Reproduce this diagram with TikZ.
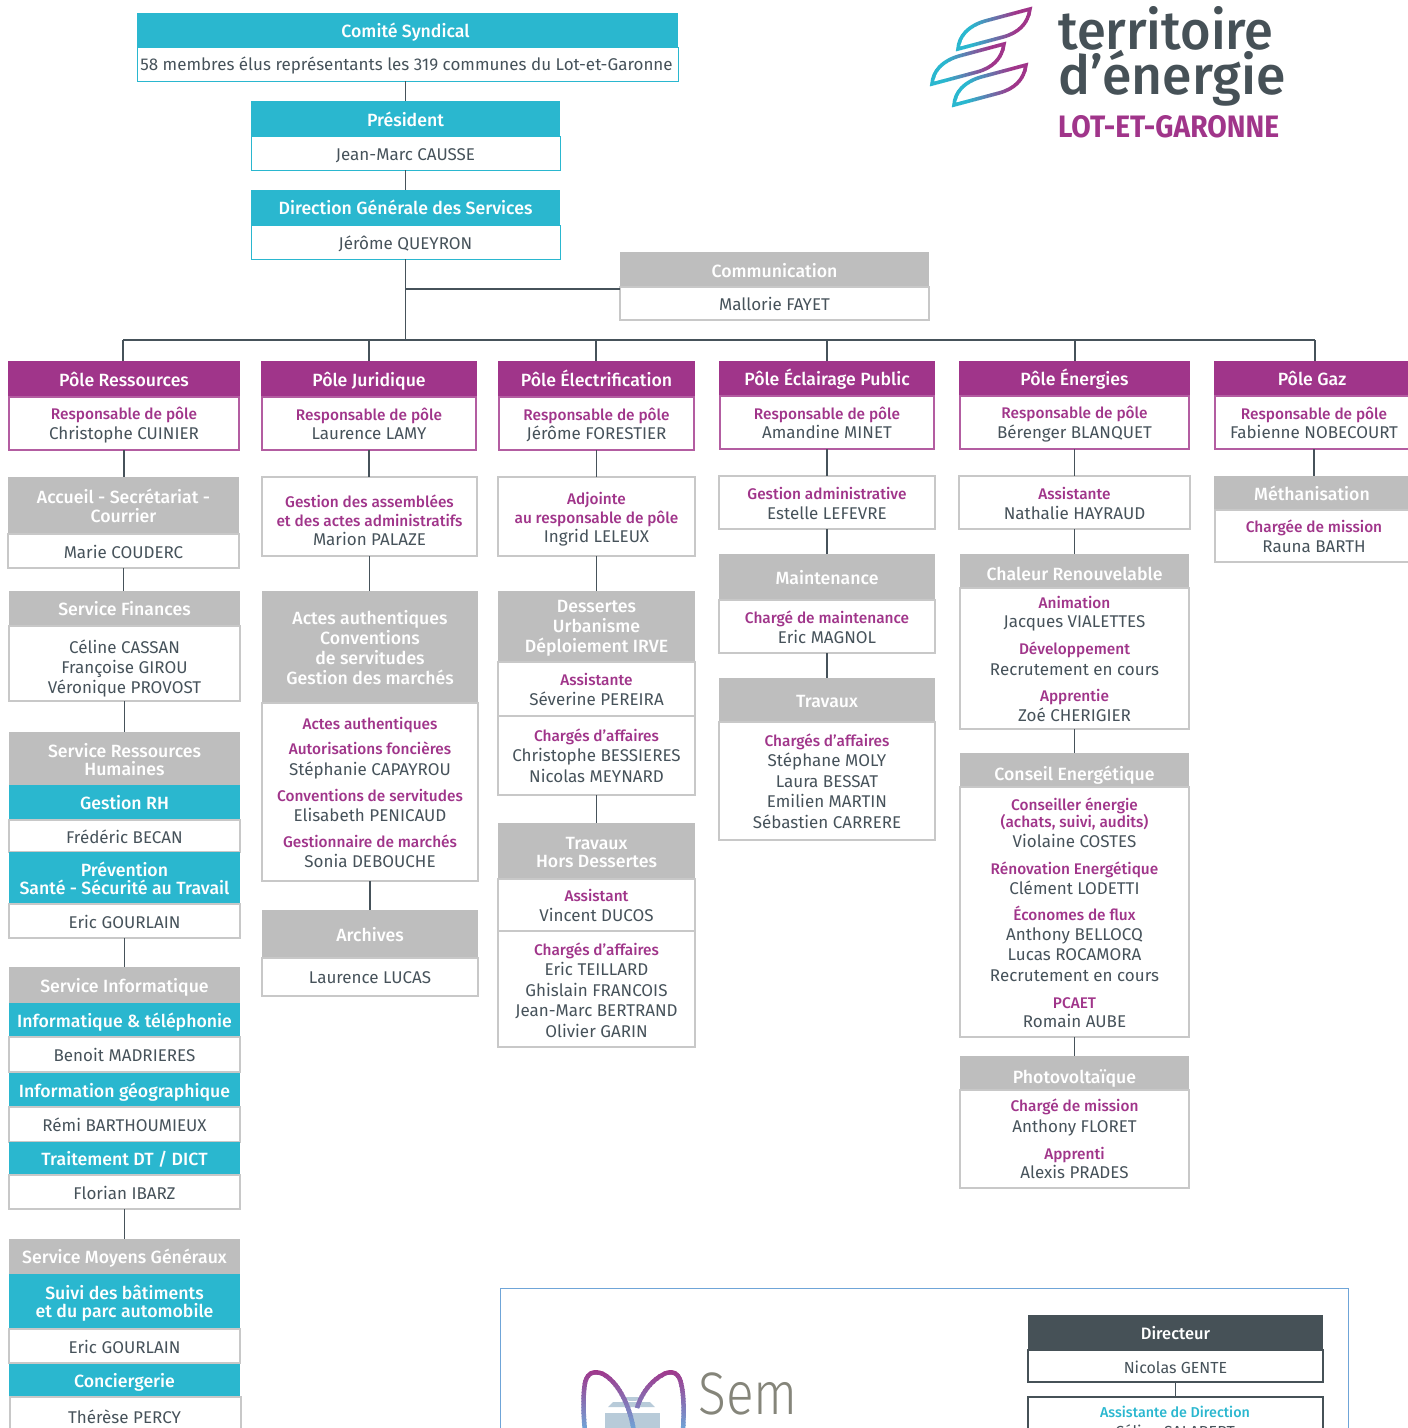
\documentclass[tikz,border=0pt]{standalone}
\usepackage{fontspec}
\setmainfont{Fira Sans}
\newfontfamily\lightf{Fira Sans Light}
\newfontfamily\medf{Fira Sans Medium}
\definecolor{teal}{HTML}{2AB7CF}
\definecolor{purp}{HTML}{A0358A}
\definecolor{grayh}{HTML}{BEBEBE}
\definecolor{grayl}{HTML}{C8C8C8}
\definecolor{ink}{HTML}{46525A}
\definecolor{dark}{HTML}{465157}
\definecolor{semblue}{HTML}{6FA5D8}
\definecolor{pile}{HTML}{B8CBD9}
\definecolor{semgray}{HTML}{85857A}
\tikzset{
 basebox/.style={inner sep=0pt,outer sep=0pt,align=center,text=ink,font=\fontsize{17}{20.4}\selectfont},
 hteal/.style={basebox,fill=teal,text=white,font=\fontsize{17.7}{18}\selectfont\medf},
 hpurp/.style={basebox,fill=purp,text=white,font=\fontsize{17.7}{18}\selectfont\medf},
 hgray/.style={basebox,fill=grayh,text=white,font=\fontsize{17.7}{20}\selectfont\medf},
 hdark/.style={basebox,fill=dark,text=white,font=\fontsize{16.5}{18}\selectfont\medf},
 bteal/.style={basebox,draw=teal,line width=1pt},
 bpurp/.style={basebox,draw=purp!80,line width=1.1pt},
 bgray/.style={basebox,draw=grayl,line width=1.1pt},
 bdark/.style={basebox,draw=dark,line width=1.1pt,font=\fontsize{16}{20}\selectfont},
 conn/.style={draw=ink,line width=1.4pt},
}
\newcommand{\rl}[1]{{\fontsize{15.4}{20}\selectfont\medf\color{purp}#1}}
\newcommand{\tl}[1]{{\fontsize{14.3}{20}\selectfont\medf\color{teal}#1}}
\newcommand{\bx}[8][0]{%
 \pgfmathsetmacro\bw{#6-#4}\pgfmathsetmacro\bh{#7-#5}\pgfmathsetmacro\bs{18+2*#1}%
 \node[#2,minimum width=\bw pt,minimum height=\bh pt] (#3) at ({(#4+#6)/2},{(#5+#7)/2}) {\rule{0pt}{\bs pt}#8\rule[-3.5pt]{0pt}{3.5pt}};}
\newcommand{\link}[2]{\draw[conn] (#1) -- (#1 |- #2);}
\begin{document}
\begin{tikzpicture}[x=1pt,y=-1pt]
\useasboundingbox (0,0) rectangle (1408,1428);
\clip (0,0) rectangle (1408,1428);
% connectors of the top
\coordinate (busl) at (123,340);
\coordinate (busr) at (1315,340);
\draw[conn] (busl) -- (busr);
% top
\bx{hteal}{cs}{137}{13}{678}{47}{Comité Syndical\hspace{4pt}}
\bx[-0.5]{bteal}{csb}{137}{47}{678}{81}{58 membres élus représentants les 319 communes du Lot-et-Garonne\hspace{2pt}}
\bx[1]{hteal}{pr}{251}{101}{560}{136}{Président}
\bx{bteal}{prb}{251}{136}{560}{170}{Jean-Marc CAUSSE}
\bx{hteal}{dg}{251}{190}{560}{225}{Direction Générale des Services}
\bx{bteal}{dgb}{251}{225}{560}{259}{Jérôme QUEYRON}
\bx[1]{hgray}{com}{620}{252}{929}{287}{Communication}
\bx{bgray}{comb}{620}{287}{929}{320}{Mallorie FAYET}
\coordinate (jc) at (405,289);
\coordinate (jb) at (405,340);
\draw[conn] (pr.north |- csb.south) -- (pr.north);
\draw[conn] (prb.south) -- (dg.north);
\draw[conn] (dgb.south) -- (dgb.south |- jb);
\draw[conn] (jc) -- (jc -| comb.west);
% poles
\bx{hpurp}{p1}{8}{361}{240}{397}{Pôle Ressources}
\bx[-1]{bpurp}{p1b}{9}{397}{239}{450}{\rl{Responsable de pôle}\\[-1pt]Christophe CUINIER}
\bx{hpurp}{p2}{261}{361}{477}{397}{Pôle Juridique}
\bx[-1]{bpurp}{p2b}{262}{397}{476}{450}{\rl{Responsable de pôle}\\[-1pt]Laurence LAMY}
\bx{hpurp}{p3}{498}{361}{695}{397}{Pôle Électrification}
\bx[-1]{bpurp}{p3b}{499}{397}{694}{450}{\rl{Responsable de pôle}\\[-1pt]Jérôme FORESTIER}
\bx{hpurp}{p4}{719}{361}{935}{396}{Pôle Éclairage Public}
\bx[-1]{bpurp}{p4b}{720}{396}{934}{449}{\rl{Responsable de pôle}\\[-1pt]Amandine MINET}
\bx{hpurp}{p5}{959}{361}{1190}{396}{Pôle Énergies}
\bx[-1]{bpurp}{p5b}{960}{396}{1189}{449}{\rl{Responsable de pôle}\\[-1pt]Bérenger BLANQUET}
\bx{hpurp}{p6}{1214}{361}{1410}{396}{Pôle Gaz}
\bx[-1]{bpurp}{p6b}{1215}{396}{1413}{449}{\rl{Responsable de pôle}\\[-1pt]Fabienne NOBECOURT}
\foreach \a in {123,369,596,827,1075,1315}{\coordinate (t) at (\a,340);\draw[conn] (t) -- (\a,361);}
% Ressources
\bx{hgray}{a1}{8}{477}{239}{534}{Accueil - Secrétariat -\\[-1.5pt]Courrier}
\bx{bgray}{a1b}{8}{534}{239}{568}{Marie COUDERC}
\bx{hgray}{a2}{9}{591}{240}{626}{Service Finances}
\bx[2.8]{bgray}{a2b}{9}{626}{240}{701}{Céline CASSAN\\Françoise GIROU\\Véronique PROVOST}
\bx[1]{hgray}{a3}{9}{732}{240}{785}{Service Ressources\\[-2pt]Humaines}
\bx{hteal}{a3c}{9}{785}{240}{820}{Gestion RH}
\bx{bgray}{a3d}{9}{820}{240}{852}{Frédéric BECAN}
\bx{hteal}{a3e}{9}{852}{240}{904}{Prévention\\Santé - Sécurité au Travail}
\bx{bgray}{a3f}{9}{904}{240}{938}{Eric GOURLAIN}
\bx{hgray}{a4}{9}{967}{240}{1003}{Service Informatique}
\bx{hteal}{a4c}{9}{1003}{240}{1037}{Informatique \& téléphonie}
\bx{bgray}{a4d}{9}{1037}{240}{1072}{Benoit MADRIERES}
\bx{hteal}{a4e}{9}{1073}{240}{1107}{Information géographique}
\bx{bgray}{a4f}{9}{1107}{240}{1142}{Rémi BARTHOUMIEUX}
\bx{hteal}{a4g}{9}{1142}{240}{1175}{Traitement DT / DICT}
\bx{bgray}{a4h}{9}{1175}{240}{1209}{Florian IBARZ}
\bx{hgray}{a5}{9}{1239}{240}{1274}{Service Moyens Généraux}
\bx{hteal}{a5c}{9}{1274}{240}{1329}{Suivi des bâtiments\\et du parc automobile}
\bx{bgray}{a5d}{9}{1329}{240}{1363}{Eric GOURLAIN}
\bx{hteal}{a5e}{9}{1364}{240}{1397}{Conciergerie}
\bx{bgray}{a5f}{10}{1397}{241}{1440}{}
\node[basebox] (a5t) at (124.5,1417) {Thérèse PERCY};
\link{p1b.south}{a1.north}
\link{a1b.south}{a2.north}
\link{a2b.south}{a3.north}
\link{a3f.south}{a4.north}
\link{a4h.south}{a5.north}
% Juridique
\bx[3]{bgray}{j1}{262}{477}{477}{556}{\rl{Gestion des assemblées}\\[-2pt]\rl{et des actes administratifs}\\[-1pt]Marion PALAZE}
\bx{hgray}{j2}{262}{591}{478}{703}{Actes authentiques\\Conventions\\de servitudes\\Gestion des marchés}
\bx[-0.5]{bgray}{j2b}{262}{703}{478}{881}{\rl{Actes authentiques}\\[5pt]\rl{Autorisations foncières}\\Stéphanie CAPAYROU\\[6pt]\rl{Conventions de servitudes}\\[-1pt]Elisabeth PENICAUD\\[6pt]\rl{Gestionnaire de marchés}\\Sonia DEBOUCHE}
\bx{hgray}{j3}{262}{910}{478}{958}{Archives}
\bx[-1]{bgray}{j3b}{262}{958}{478}{996}{Laurence LUCAS}
\link{p2b.south}{j1.north}
\link{j1.south}{j2.north}
\link{j2b.south}{j3.north}
% Electrification
\bx{bgray}{e1}{498}{477}{695}{556}{\rl{Adjointe}\\[-2pt]\rl{au responsable de pôle}\\[-1pt]Ingrid LELEUX}
\bx[-1]{hgray}{e2}{498}{591}{695}{662}{Dessertes\\Urbanisme\\Déploiement IRVE}
\bx[-1]{bgray}{e2b}{498}{662}{695}{716}{\rl{Assistante}\\Séverine PEREIRA}
\bx[-1]{bgray}{e2c}{498}{716}{695}{795}{\rl{Chargés d’affaires}\\Christophe BESSIERES\\Nicolas MEYNARD}
\bx{hgray}{e3}{498}{823}{695}{879}{Travaux\\[-2pt]Hors Dessertes}
\bx[-1]{bgray}{e3b}{498}{879}{695}{931}{\rl{Assistant}\\Vincent DUCOS}
\bx{bgray}{e3c}{498}{931}{695}{1047}{\rl{Chargés d’affaires}\\Eric TEILLARD\\Ghislain FRANCOIS\\Jean-Marc BERTRAND\\Olivier GARIN}
\link{p3b.south}{e1.north}
\link{e1.south}{e2.north}
\link{e2c.south}{e3.north}
% Eclairage
\bx{bgray}{l1}{719}{476}{935}{529}{\rl{Gestion administrative}\\Estelle LEFEVRE}
\bx{hgray}{l2}{719}{554}{935}{600}{Maintenance}
\bx{bgray}{l2b}{719}{600}{935}{653}{\rl{Chargé de maintenance}\\Eric MAGNOL}
\bx{hgray}{l3}{719}{678}{935}{722}{Travaux}
\bx[-1]{bgray}{l3b}{719}{722}{935}{840}{\rl{Chargés d’affaires}\\Stéphane MOLY\\Laura BESSAT\\Emilien MARTIN\\Sébastien CARRERE}
\link{p4b.south}{l1.north}
\link{l1.south}{l2.north}
\link{l2b.south}{l3.north}
% Energies
\bx{bgray}{n1}{959}{476}{1190}{529}{\rl{Assistante}\\Nathalie HAYRAUD}
\bx[2]{hgray}{n2}{960}{554}{1189}{588}{Chaleur Renouvelable}
\bx[-1]{bgray}{n2b}{960}{588}{1189}{729}{\rl{Animation}\\[-0.5pt]Jacques VIALETTES\\[6.5pt]\rl{Développement}\\Recrutement en cours\\[6pt]\rl{Apprentie}\\[-0.5pt]Zoé CHERIGIER}
\bx[3]{hgray}{n3}{960}{753}{1189}{787}{Conseil Energétique}
\bx[-0.5]{bgray}{n3b}{960}{787}{1189}{1037}{\rl{Conseiller énergie}\\[-3pt]\rl{(achats, suivi, audits)}\\Violaine COSTES\\[6pt]\rl{Rénovation Energétique}\\Clément LODETTI\\[5pt]\rl{Économes de flux}\\Anthony BELLOCQ\\Lucas ROCAMORA\\Recrutement en cours\\[6.5pt]\rl{PCAET}\\[-1pt]Romain AUBE}
\bx[3]{hgray}{n4}{960}{1056}{1189}{1090}{Photovoltaïque}
\bx[-1]{bgray}{n4b}{960}{1090}{1189}{1188}{\rl{Chargé de mission}\\Anthony FLORET\\[7pt]\rl{Apprenti}\\[-1pt]Alexis PRADES}
\link{p5b.south}{n1.north}
\link{n1.south}{n2.north}
\link{n2b.south}{n3.north}
\link{n3b.south}{n4.north}
% Gaz
\bx{hgray}{g1}{1214}{476}{1410}{510}{Méthanisation}
\bx[-1]{bgray}{g1b}{1215}{510}{1413}{562}{\rl{Chargée de mission}\\Rauna BARTH}
\link{p6b.south}{g1.north}
% SEM
\bx{draw=semblue,line width=1pt,basebox}{sem}{500}{1288}{1348}{1460}{}
\bx{hdark}{d1}{1028}{1315}{1323}{1350}{Directeur}
\bx{bdark}{d1b}{1028}{1350}{1323}{1382}{Nicolas GENTE}
\bx{bdark}{d2}{1028}{1397}{1323}{1470}{}
\node[basebox] (d2a) at (1175,1412) {\tl{Assistante de Direction}};
\node[basebox,font=\fontsize{16}{20}\selectfont] (d2c) at (1175,1431) {Céline SALABERT};
\draw[conn,line width=1.2pt] (d1b.south) -- (d2.north);
% territoire logo
\newcommand{\leafpath}{(1030,9) -- (985,21) .. controls (968,26) and (959,36) .. (958,49) -- (1003,37) .. controls (1018,33) and (1028,24) .. (1030,9) -- cycle}
\foreach \dx/\dy in {0/0,-26/35,-4/56}{
 \foreach \i in {0,...,26}{
  \pgfmathsetmacro\pc{min(100,max(0,(\i-5)*100/15))}
  \colorlet{lc}{purp!\pc!teal}
  \begin{scope}[shift={(\dx,\dy)}]
   \clip ({955+\i*3},0) rectangle ({955+\i*3+3.4},60);
   \draw[lc,line width=3.6pt,miter limit=10] \leafpath;
  \end{scope}
 }
}
\node[anchor=base west,inner sep=0,text=dark,font=\fontsize{54}{54}\selectfont\medf] (t1) at (1058,49) {\scalebox{0.97}[1]{territoire}};
\node[anchor=base west,inner sep=0,text=dark,font=\fontsize{54}{54}\selectfont\medf] (t2) at (1058,94) {\scalebox{0.99}[1]{d’énergie}};
\node[anchor=base west,inner sep=0,text=purp,font=\fontsize{31}{31}\selectfont\bfseries] (t3) at (1058,137) {\scalebox{0.91}[1]{LOT-ET-GARONNE}};
% Sem logo
\fill[pile] (622,1397) arc[start angle=180,end angle=0,x radius=10.5,y radius=4] -- cycle;
\fill[pile] (613,1402) -- (650,1402) -- (655,1407) -- (608,1407) -- cycle;
\fill[pile] (605,1413) -- (660,1413) -- (660,1440) -- (605,1440) -- cycle;
\foreach \i in {0,...,20}{
  \pgfmathsetmacro\pc{\i*5}
  \colorlet{lc}{semblue!\pc!purp}
  \begin{scope}
   \clip (570,{1368+\i*3}) rectangle (700,{1368+\i*3+3.4});
   \draw[lc,line width=4.5pt,line join=round] (585,1432) .. controls (583,1410) and (583,1395) .. (585,1383) .. controls (587,1373) and (594,1370) .. (603,1374) .. controls (618,1382) and (630,1405) .. (634,1432);
   \draw[lc,line width=4.5pt,line join=round] (683,1432) .. controls (684,1410) and (684,1395) .. (681,1383) .. controls (679,1373) and (672,1370) .. (664,1374) .. controls (652,1380) and (642,1392) .. (637,1408);
  \end{scope}
}
\node[anchor=west,inner sep=0,text=semgray,font=\fontsize{60}{60}\selectfont\lightf] (s1) at (698,1394) {\scalebox{0.86}[1]{Sem}};
\end{tikzpicture}
\end{document}
